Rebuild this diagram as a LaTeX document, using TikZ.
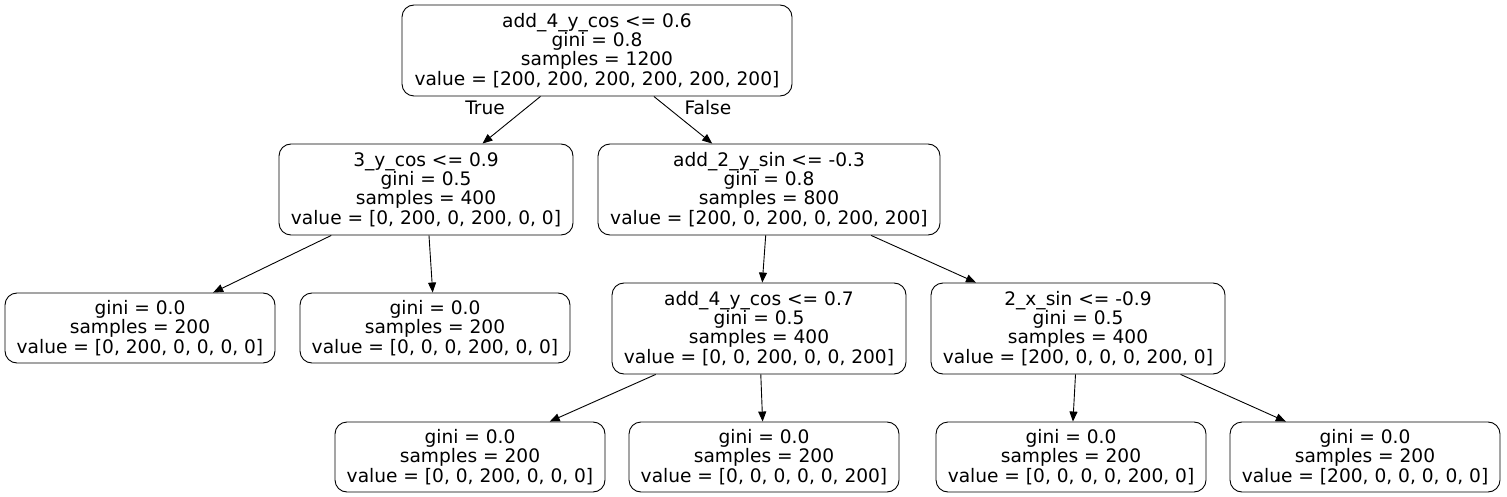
\documentclass[tikz,border=0pt]{standalone}
\usepackage{fontspec}
\setmainfont{DejaVu Sans}
\usetikzlibrary{arrows.meta}

\tikzset{
	treenode/.style={draw, rounded corners=12pt, line width=0.9pt, align=center, inner sep=0pt,
		font=\fontsize{18.6}{19.3}\selectfont},
	splitnode/.style={treenode, minimum height=91pt},
	leafnode/.style={treenode, minimum width=270pt, minimum height=70pt},
	treeedge/.style={line width=0.9pt, -{Triangle[length=10pt,width=8pt]}},
}

\begin{document}
\begin{tikzpicture}[x=1pt,y=-1pt]
		\useasboundingbox (0,0) rectangle (1507,497);
		
		\node (root) [splitnode, minimum width=390pt] at (597,50.5) {add\_4\_y\_cos <= 0.6\\gini = 0.8\\samples = 1200\\value = [200, 200, 200, 200, 200, 200]};
		
		\node (ycos) [splitnode, minimum width=294pt] at (426,189.5) {3\_y\_cos <= 0.9\\gini = 0.5\\samples = 400\\value = [0, 200, 0, 200, 0, 0]};
		\node (ysin) [splitnode, minimum width=342pt] at (769,189.5) {add\_2\_y\_sin <= -0.3\\gini = 0.8\\samples = 800\\value = [200, 0, 200, 0, 200, 200]};
		
		\node (leafa) [leafnode] at (140,328) {gini = 0.0\\samples = 200\\value = [0, 200, 0, 0, 0, 0]};
		\node (leafb) [leafnode] at (435,328) {gini = 0.0\\samples = 200\\value = [0, 0, 0, 200, 0, 0]};
		\node (ycosb) [splitnode, minimum width=294pt] at (759,328.5) {add\_4\_y\_cos <= 0.7\\gini = 0.5\\samples = 400\\value = [0, 0, 200, 0, 0, 200]};
		\node (xsin) [splitnode, minimum width=294pt] at (1078,328.5) {2\_x\_sin <= -0.9\\gini = 0.5\\samples = 400\\value = [200, 0, 0, 0, 200, 0]};
		
		\node (leafc) [leafnode] at (470,457) {gini = 0.0\\samples = 200\\value = [0, 0, 200, 0, 0, 0]};
		\node (leafd) [leafnode] at (764,457) {gini = 0.0\\samples = 200\\value = [0, 0, 0, 0, 0, 200]};
		\node (leafe) [leafnode] at (1071,457) {gini = 0.0\\samples = 200\\value = [0, 0, 0, 0, 200, 0]};
		\node (leaff) [leafnode] at (1365,457) {gini = 0.0\\samples = 200\\value = [200, 0, 0, 0, 0, 0]};
		
		\draw[treeedge] (root)--(ycos);
		\draw[treeedge] (root)--(ysin);
		\node (truelbl) [font=\fontsize{18.6}{19.3}\selectfont] at (485,108) {True};
		\node (falselbl) [font=\fontsize{18.6}{19.3}\selectfont] at (708,108) {False};
		
		\draw[treeedge] (ycos)--(leafa);
		\draw[treeedge] (ycos)--(leafb);
		\draw[treeedge] (ysin)--(ycosb);
		\draw[treeedge] (ysin)--(xsin);
		
		\draw[treeedge] (ycosb)--(leafc);
		\draw[treeedge] (ycosb)--(leafd);
		\draw[treeedge] (xsin)--(leafe);
		\draw[treeedge] (xsin)--(leaff);
	\end{tikzpicture}
\end{document}
